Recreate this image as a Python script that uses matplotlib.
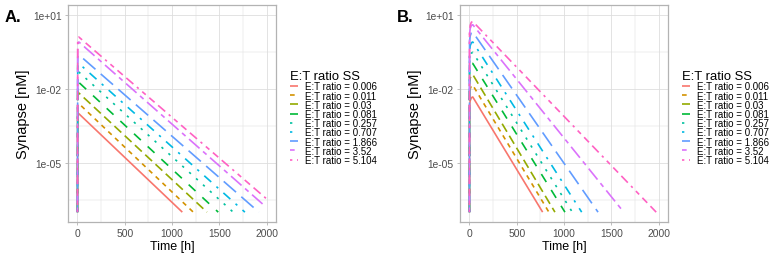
import numpy as np
import matplotlib
matplotlib.use("Agg")
import matplotlib.pyplot as plt
from matplotlib.ticker import FixedLocator, NullFormatter

plt.rcParams['font.family'] = ['Liberation Sans', 'DejaVu Sans']

# ---------------- data ----------------
ratio_labels = ["0.006", "0.011", "0.03", "0.081", "0.257", "0.707", "1.866", "3.52", "5.104"]
colors = ["#F8766D", "#D39200", "#93AA00", "#00BA38", "#00C19F", "#00B9E3", "#619CFF", "#DB72FB", "#FF61C3"]
dash_codes = ["solid", "22", "42", "44", "13", "1343", "73", "2262", "12223242"]

# Panel A: log10(Synapse) at start, peak, and end of each curve
a_start_log = [-7.0] * 9
a_peak_time = 15
a_peak_log = [-3.01, -2.60, -2.17, -1.74, -1.32, -0.97, -0.62, -0.10, 0.10]
a_end_time = [1109, 1225, 1370, 1489, 1647, 1771, 1919, 1985, 2000]
a_end_log = [-7.0, -7.0, -7.0, -7.0, -7.0, -7.0, -7.0, -6.76, -6.46]

# Panel B
b_start_log = [-7.0] * 9
b_peak_time = 35
b_peak_log = [-2.33, -1.85, -1.42, -0.97, -0.52, -0.10, 0.30, 0.60, 0.73]
b_end_time = [774, 840, 904, 1010, 1088, 1187, 1360, 1632, 1975]
b_end_log = [-7.0] * 9


def curve_a(i):
    t = [0, 3, a_peak_time, a_end_time[i]]
    v = [a_start_log[i], a_peak_log[i] - 0.08, a_peak_log[i], a_end_log[i]]
    return np.array(t, float), 10 ** np.array(v)


def curve_b(i):
    p = b_peak_log[i]
    t = [0, 1, 8, 20, b_peak_time, b_end_time[i]]
    v = [b_start_log[i], p - 0.40, p - 0.15, p - 0.03, p, b_end_log[i]]
    return np.array(t, float), 10 ** np.array(v)


def dashes(code):
    if code == "solid":
        return None
    return [1.4 * int(c, 16) for c in code]


W, H = 773, 255
fig = plt.figure(figsize=(W / 100, H / 100), dpi=100)

grey30 = "#4D4D4D"
grey70 = "#B3B3B3"
grey87 = "#DEDEDE"


def style_axes(ax):
    ax.set_yscale("log")
    ax.set_xlim(-100, 2100)
    ax.set_ylim(10 ** -7.4, 10 ** 1.4)
    ax.xaxis.set_major_locator(FixedLocator([0, 500, 1000, 1500, 2000]))
    ax.xaxis.set_minor_locator(FixedLocator([250, 750, 1250, 1750]))
    ax.yaxis.set_major_locator(FixedLocator([1e1, 1e-2, 1e-5]))
    ax.yaxis.set_minor_locator(FixedLocator([10 ** -0.5, 10 ** -3.5, 10 ** -6.5]))
    ax.yaxis.set_minor_formatter(NullFormatter())
    ax.set_yticklabels(["1e+01", "1e-02", "1e-05"])
    ax.grid(True, which="major", color=grey87, linewidth=0.6)
    ax.grid(True, which="minor", color=grey87, linewidth=0.35)
    ax.set_axisbelow(True)
    for s in ax.spines.values():
        s.set_color(grey70)
        s.set_linewidth(0.9)
    ax.tick_params(which="major", length=2.5, width=0.6, color=grey70,
                   labelsize=7.4, labelcolor=grey30, pad=2)
    ax.tick_params(which="minor", length=0)
    ax.set_xlabel("Time [h]", fontsize=9.0, labelpad=1)
    ax.set_ylabel("Synapse [nM]", fontsize=10.5, labelpad=2)


panels = [
    (68, "A.", curve_a),
    (460, "B.", curve_b),
]

for left, tag, fn in panels:
    ax = fig.add_axes([left / W, 32 / H, 208 / W, 217 / H])
    style_axes(ax)
    for i in range(9):
        t, y = fn(i)
        ln, = ax.plot(t, y, color=colors[i], lw=1.2, solid_capstyle="butt",
                      dash_capstyle="butt",
                      label=f"E:T ratio = {ratio_labels[i]}")
        d = dashes(dash_codes[i])
        if d is not None:
            ln.set_dashes(d)
    leg = ax.legend(loc="upper left", bbox_to_anchor=(1.065, 0.70),
                    frameon=False, fontsize=7.0, title="E:T ratio SS",
                    title_fontsize=9.4, handlelength=0.9, handletextpad=0.7,
                    labelspacing=-0.08, borderaxespad=0, borderpad=0)
    leg._legend_box.align = "left"
    fig.text((left - 63) / W, 1 - 17 / H, tag, fontsize=12, fontweight="bold",
             va="center", ha="left")

fig.savefig("out.png", dpi=100)
